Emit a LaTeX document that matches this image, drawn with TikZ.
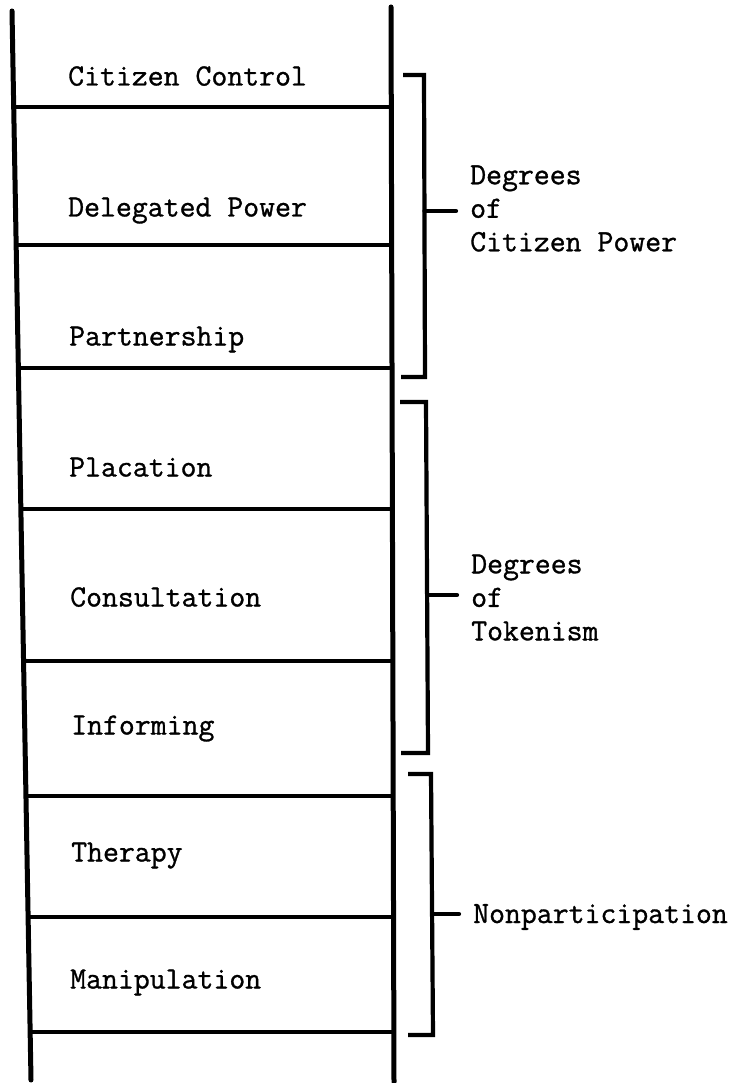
\documentclass[tikz,border=0pt]{standalone}
\usepackage{fontspec}
\setmonofont{Latin Modern Mono}[FakeBold=1]
\usetikzlibrary{positioning}

\begin{document}
\begin{tikzpicture}[
      x=1pt, y=-1pt,
      font=\ttfamily\fontsize{30.9}{33.5}\selectfont,
      rail/.style={line width=5pt, line cap=round},
      rung/.style={line width=3.8pt},
      brk/.style={line width=4.2pt, line join=miter},
      tick/.style={line width=4.2pt, line cap=round, shorten >=14pt},
      rungtext/.style={anchor=base west, inner sep=0pt},
      grouptext/.style={anchor=west, align=left, inner sep=0pt}
    ]
      \useasboundingbox (0,0) rectangle (734,1083);

      % the ladder
      \draw [rail] (12,11) -- (31,1080);
      \draw [rail] (391,7) -- (394,1082);
      \draw [rung] (13.7,107) -- (392,107);
      \draw [rung] (16.2,245) -- (392,245);
      \draw [rung] (18.3,368) -- (392,368);
      \draw [rung] (20.9,509) -- (392.5,509);
      \draw [rung] (23.6,661) -- (392.5,661);
      \draw [rung] (26,796) -- (393,796);
      \draw [rung] (28.1,917) -- (393,917);
      \draw [rung] (30.2,1032) -- (393.5,1032);

      % rungs of participation
      \node (control) [rungtext] at (68,85.5) {Citizen Control};
      \node (delegated) [rungtext] at (68,216.5) {Delegated Power};
      \node (partner) [rungtext] at (69,345.5) {Partnership};
      \node (placation) [rungtext] at (69,476.5) {Placation};
      \node (consult) [rungtext] at (70,606.5) {Consultation};
      \node (inform) [rungtext] at (71,734.5) {Informing};
      \node (therapy) [rungtext] at (71,861.5) {Therapy};
      \node (manip) [rungtext] at (70,988.5) {Manipulation};

      % groups
      \node (power) [grouptext] at (470,208.5) {Degrees\\of\\Citizen Power};
      \node (token) [grouptext] at (471,597.5) {Degrees\\of\\Tokenism};
      \node (nonpart) [grouptext] at (473,917) {Nonparticipation};

      \draw [brk] (403,75) -- (424,75) -- (425,377) -- (401,377);
      \draw [brk] (400,402) -- (426,402) -- (428,753) -- (401,753);
      \draw [brk] (408,774) -- (431,774) -- (433,1035) -- (408,1035);

      \coordinate (b1) at (424.5,211);
      \coordinate (b2) at (427,595);
      \coordinate (b3) at (432.5,914);
      \draw [tick] (b1) -- (b1 -| power.west);
      \draw [tick] (b2) -- (b2 -| token.west);
      \draw [tick] (b3) -- (b3 -| nonpart.west);
    \end{tikzpicture}
\end{document}
